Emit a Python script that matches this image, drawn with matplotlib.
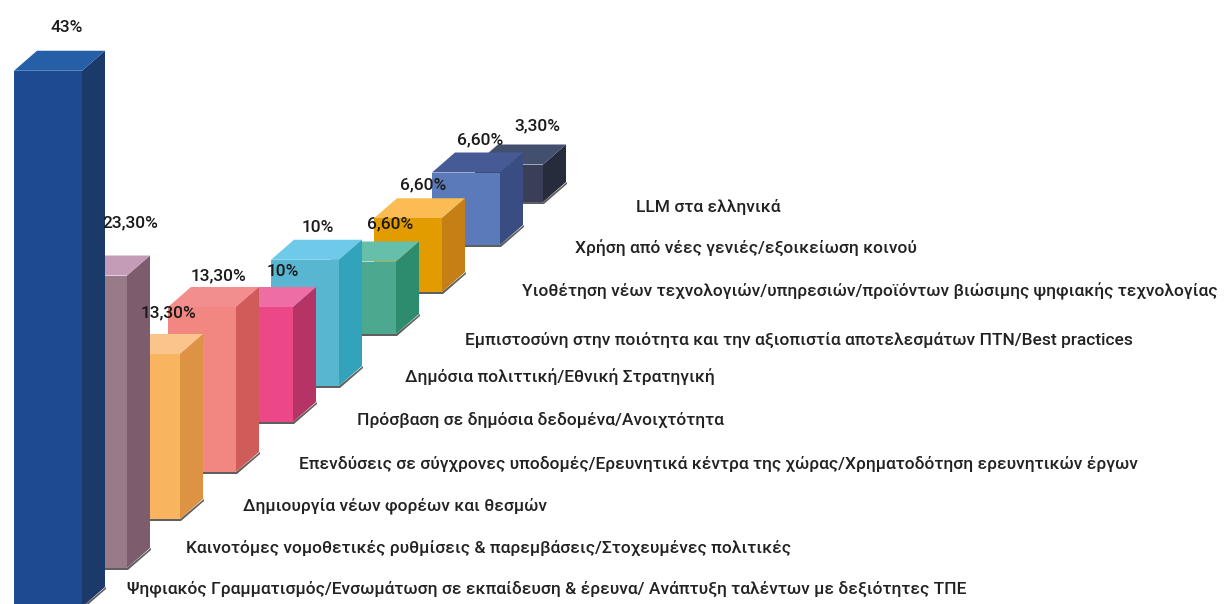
import matplotlib
matplotlib.use("Agg")
import matplotlib.pyplot as plt

categories = [
    "Ψηφιακός Γραμματισμός/Ενσωμάτωση σε εκπαίδευση & έρευνα/ Ανάπτυξη ταλέντων με δεξιότητες ΤΠΕ",
    "Καινοτόμες νομοθετικές ρυθμίσεις & παρεμβάσεις/Στοχευμένες πολιτικές",
    "Δημιουργία νέων φορέων και θεσμών",
    "Επενδύσεις σε σύγχρονες υποδομές/Ερευνητικά κέντρα της χώρας/Χρηματοδότηση ερευνητικών έργων",
    "Πρόσβαση σε δημόσια δεδομένα/Ανοιχτότητα",
    "Δημόσια πολιττική/Εθνική Στρατηγική",
    "Εμπιστοσύνη στην ποιότητα και την αξιοπιστία αποτελεσμάτων ΠΤΝ/Best practices",
    "Υιοθέτηση νέων τεχνολογιών/υπηρεσιών/προϊόντων βιώσιμης ψηφιακής τεχνολογίας",
    "Χρήση από νέες γενιές/εξοικείωση κοινού",
    "LLM στα ελληνικά",
]
value_labels = ["43%", "23,30%", "13,30%", "13,30%", "10%", "10%", "6,60%", "6,60%", "6,60%", "3,30%"]
# heights as drawn, in percent (the picture is not quite to scale)
drawn_values = [42.9, 23.4, 13.2, 13.2, 9.2, 10.1, 5.8, 5.9, 5.8, 3.0]

# layout, in pixels
bar_right = [82, 127, 180, 236, 293, 339, 396, 442, 500, 543]
bar_base = [607, 568, 519, 472, 422, 386, 334, 292, 245, 202]
value_pos = [(67, 28), (130.5, 223), (168, 313), (219, 276), (283, 271),
             (318, 228), (390, 224), (423, 185), (480, 140), (537, 126)]
cat_pos = [(127, 589), (186, 548), (243, 506), (299, 464), (357, 420),
           (405, 377), (465, 340), (522, 291), (575, 248), (636, 207)]
front_col = ["#1e4a91", "#987a89", "#f8b45e", "#f28680", "#ec4887",
             "#59b6d1", "#4ca990", "#e39c00", "#5b7aba", "#383f56"]
top_col = ["#255fa8", "#c59cb7", "#f9c58d", "#f28e8e", "#ee6da5",
           "#6fc9e8", "#66bfa9", "#fbbc53", "#465b96", "#434f6e"]
side_col = ["#1b3a69", "#7c5c6d", "#de9344", "#cf5c59", "#b53465",
            "#32a3ba", "#2e8c6e", "#c57f15", "#3a4d82", "#262c3c"]

PX_PER_PCT = 12.5
W = 68
DX, DY = 23, 20

plt.rcParams["font.family"] = ["Roboto", "DejaVu Sans"]

fig = plt.figure(figsize=(12.24, 6.04), dpi=100)
ax = fig.add_axes([0, 0, 1, 1])
ax.set_xlim(0, 1224)
ax.set_ylim(604, 0)
ax.axis("off")

# back bars first so nearer ones overlap them
for i in range(len(drawn_values) - 1, -1, -1):
    r = bar_right[i]
    l = r - W
    b = bar_base[i]
    t = b - drawn_values[i] * PX_PER_PCT
    # shadow under the bar
    ax.fill([l, r, r + DX + 1, r + DX + 1, r + 1, l],
            [b, b, b - DY, b - DY + 2, b + 2, b + 2],
            color="#2a2a2a", alpha=0.75, lw=0)
    ax.fill([r, r + DX, r + DX, r], [t, t - DY, b - DY, b], color=side_col[i], lw=0)
    ax.fill([l, r, r + DX, l + DX], [t, t, t - DY, t - DY], color=top_col[i], lw=0)
    ax.fill([l, r, r, l], [t, t, b, b], color=front_col[i], lw=0)

for txt, (x, y) in zip(value_labels, value_pos):
    ax.text(x, y, txt, ha="center", va="center", fontsize=12.5, color="#1a1a1a", weight="medium")

for txt, (x, y) in zip(categories, cat_pos):
    ax.text(x, y, txt, ha="left", va="center", fontsize=12.47, color="#222222", weight="medium")

fig.savefig("out.png", dpi=100)
